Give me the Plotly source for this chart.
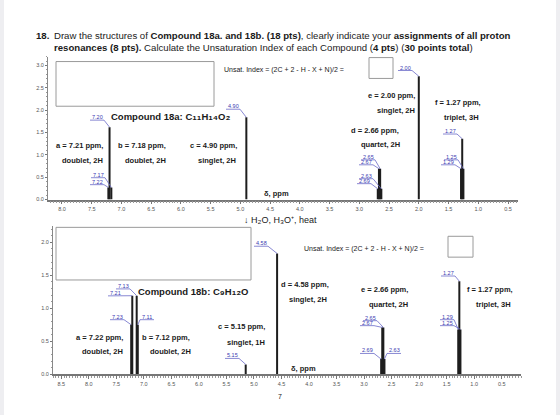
import plotly.graph_objects as go

W, H = 560, 418
FONT = "Liberation Sans, Arial, sans-serif"

# ---------------- data ----------------
top_ppm = [7.22, 7.20, 7.17, 4.90, 2.69, 2.67, 2.65, 2.63, 2.00, 1.29, 1.27, 1.25]
top_int = [0.27, 1.62, 0.27, 1.84, 0.24, 0.69, 0.69, 0.24, 2.76, 0.69, 1.36, 0.69]

bot_ppm = [7.23, 7.21, 7.13, 7.11, 5.15, 4.58, 2.69, 2.67, 2.65, 2.63, 1.29, 1.27, 1.25]
bot_int = [0.75, 1.19, 1.19, 0.75, 0.15, 1.83, 0.23, 0.71, 0.71, 0.23, 0.68, 1.41, 0.68]

# peak labels: (text, peak index, label px x, label px y, side)
top_labels = [("7.20", 1, 97, 118, "L"), ("7.17", 2, 98, 176, "L"), ("7.22", 0, 97, 183, "L"),
              ("4.90", 3, 233, 107, "L"), ("2.00", 8, 405, 68, "L"),
              ("2.65", 6, 368, 158, "L"), ("2.67", 5, 366, 163, "L"),
              ("2.63", 7, 366, 177, "L"), ("2.69", 4, 364, 182, "L"),
              ("1.27", 10, 450, 132, "L"), ("1.25", 11, 451, 158, "L"), ("1.29", 9, 448, 163, "L")]
bot_labels = [("7.13", 2, 123, 288, "L"), ("7.21", 1, 115, 295, "L"), ("7.23", 0, 117, 319, "L"),
              ("7.11", 3, 147, 319, "R"), ("5.15", 4, 232, 358, "L"), ("4.58", 5, 261, 245, "L"),
              ("2.65", 8, 370, 320, "L"), ("2.67", 7, 367, 325, "L"),
              ("2.69", 6, 367, 353, "L"), ("2.63", 9, 394, 353, "R"),
              ("1.27", 11, 448, 275, "L"), ("1.29", 10, 447, 319, "L"), ("1.25", 12, 447, 325, "L")]

x_ticks_top = [8.0, 7.5, 7.0, 6.5, 6.0, 5.5, 5.0, 4.5, 4.0, 3.5, 3.0, 2.5, 2.0, 1.5, 1.0, 0.5]
x_ticks_bot = [8.5] + x_ticks_top

# ---------------- axes geometry (pixels) ----------------
TOP = dict(x0=48, x1=518, xr=(8.235, 0.332), y0=201, y1=57, yr=(0, (201 - 57) / 45.0))
BOT = dict(x0=53, x1=521, xr=(8.65, 0.15), y0=377, y1=228, yr=(0, (377 - 228) / 66.5))


def px2x(ax, px):
    a, b = ax["xr"]
    return a + (px - ax["x0"]) / (ax["x1"] - ax["x0"]) * (b - a)


def py2y(ax, py):
    a, b = ax["yr"]
    return a + (ax["y0"] - py) / (ax["y0"] - ax["y1"]) * (b - a)


fig = go.Figure()


def stick_trace(ppm, inten, xa, ya):
    xs, ys = [], []
    for p, h in zip(ppm, inten):
        xs += [p, p, None]
        ys += [0, h, None]
    fig.add_trace(go.Scatter(x=xs, y=ys, mode="lines", xaxis=xa, yaxis=ya,
                             line=dict(color="#1e1e1e", width=2), hoverinfo="skip",
                             showlegend=False))


stick_trace(top_ppm, top_int, "x", "y")
stick_trace(bot_ppm, bot_int, "x2", "y2")

annotations = []


def label_set(labels, ppm, inten, ax, xa, ya):
    for txt, i, lx, ly, side in labels:
        uy = ly + 3
        if side == "L":
            pts_px = [(lx - 7, uy), (lx + 7, uy)]
        else:
            pts_px = [(lx + 7, uy), (lx - 7, uy)]
        xs = [px2x(ax, p[0]) for p in pts_px] + [ppm[i]]
        ys = [py2y(ax, p[1]) for p in pts_px] + [inten[i]]
        fig.add_trace(go.Scatter(x=xs, y=ys, mode="lines", xaxis=xa, yaxis=ya,
                                 line=dict(color="#6a6ac8", width=0.8), hoverinfo="skip",
                                 showlegend=False))
        annotations.append(dict(x=lx / W, y=1 - ly / H, xref="paper", yref="paper",
                                text=txt, showarrow=False, xanchor="center", yanchor="middle",
                                font=dict(family=FONT, size=5.5, color="#3a3ab0")))


label_set(top_labels, top_ppm, top_int, TOP, "x", "y")
label_set(bot_labels, bot_ppm, bot_int, BOT, "x2", "y2")


def txt(x, y, s, size=7.5, anchor="center", color="#1a1a1a"):
    annotations.append(dict(x=x / W, y=1 - y / H, xref="paper", yref="paper", text=s,
                            showarrow=False, xanchor=anchor, yanchor="middle",
                            font=dict(family=FONT, size=size, color=color)))


def sb(s, px=11):
    return '<span style="font-size:%dpx">%s</span>' % (px, s)


# header
txt(34, 36, "<b>18.</b>", 9.6, "left")
txt(52, 36, "Draw the structures of <b>Compound 18a. and 18b. (18 pts)</b>, clearly indicate your "
            "<b>assignments of all proton</b>", 9.6, "left")
txt(52, 48, "<b>resonances (8 pts).</b> Calculate the Unsaturation Index of each Compound "
            "(<b>4 pts</b>) (<b>30 points total</b>)", 9.6, "left")

# top spectrum texts
txt(222, 71, "Unsat. Index = (2C + 2 - H - X + N)/2 =", 7, "left")
txt(170, 117, "<b>Compound 18a: C" + sb("₁₁") + "H" + sb("₁₄") + "O" + sb("₂") + "</b>", 9.5)
for x, y, s in [(79, 147, "a = 7.21 ppm,"), (82, 162, "doublet, 2H"),
                (142, 147, "b = 7.18 ppm,"), (145, 162, "doublet, 2H"),
                (213, 147, "c = 4.90 ppm,"), (217, 162, "singlet, 2H"),
                (375, 131, "d = 2.66 ppm,"), (380, 146, "quartet, 2H"),
                (391, 96, "e = 2.00 ppm,"), (396, 111, "singlet, 2H"),
                (458, 103, "f = 1.27 ppm,"), (461, 118, "triplet, 3H"),
                (276, 195, "δ, ppm")]:
    txt(x, y, "<b>" + s + "</b>", 7.5)

txt(280, 221, "↓ H" + sb("₂", 10) + "O, H" + sb("₃", 10) + "O⁺, heat", 9)

# bottom spectrum texts
txt(302, 251, "Unsat. Index = (2C + 2 - H - X + N)/2 =", 7, "left")
txt(193, 293, "<b>Compound 18b: C" + sb("₉") + "H" + sb("₁₂") + "O</b>", 9.5)
for x, y, s in [(99, 340, "a = 7.22 ppm,"), (102, 354, "doublet, 2H"),
                (166, 340, "b = 7.12 ppm,"), (170, 354, "doublet, 2H"),
                (241, 329, "c = 5.15 ppm,"), (246, 345, "singlet, 1H"),
                (305, 287, "d = 4.58 ppm,"), (308, 302, "singlet, 2H"),
                (384, 292, "e = 2.66 ppm,"), (388, 307, "quartet, 2H"),
                (490, 292, "f = 1.27 ppm,"), (493, 307, "triplet, 3H"),
                (303, 371, "δ, ppm")]:
    txt(x, y, "<b>" + s + "</b>", 7.5)
txt(280, 399, "7", 7)

# shapes: page edges and boxes
shapes = [
    dict(type="rect", xref="paper", yref="paper", x0=0, x1=4 / W, y0=0, y1=1,
         fillcolor="#eeeef1", line=dict(width=0), layer="below"),
    dict(type="rect", xref="paper", yref="paper", x0=556 / W, x1=1, y0=0, y1=1,
         fillcolor="#eeeef1", line=dict(width=0), layer="below"),
]
for x0, y0, x1, y1 in [(56, 62, 214, 107), (369, 58, 393, 79), (56, 229, 251, 282), (448, 238, 473, 259)]:
    shapes.append(dict(type="rect", xref="paper", yref="paper", x0=x0 / W, x1=x1 / W,
                       y0=1 - y1 / H, y1=1 - y0 / H, line=dict(color="#9a9a9a", width=1),
                       fillcolor="rgba(0,0,0,0)"))


def xaxis(ax, ticks, anchor):
    return dict(domain=[ax["x0"] / W, ax["x1"] / W], range=list(ax["xr"]), anchor=anchor,
                tickvals=ticks, ticktext=["%.1f" % t for t in ticks],
                ticks="outside", ticklen=3, tickwidth=0.8, tickcolor="#777",
                minor=dict(dtick=0.05, ticks="outside", ticklen=1.5, tickcolor="#999", tickwidth=0.6),
                showline=True, linecolor="#777", linewidth=1.5, showgrid=False, zeroline=False,
                tickfont=dict(family=FONT, size=5.5, color="#555"))


def yaxis(ax, dt, anchor):
    return dict(domain=[1 - ax["y0"] / H, 1 - ax["y1"] / H], range=list(ax["yr"]), anchor=anchor,
                dtick=dt, tick0=0, tickformat=".1f",
                ticks="outside", ticklen=2, tickwidth=0.8, tickcolor="#777",
                minor=dict(dtick=0.1, ticks="outside", ticklen=1.5, tickcolor="#999", tickwidth=0.6),
                showline=True, linecolor="#888", linewidth=1, showgrid=False, zeroline=False,
                tickfont=dict(family=FONT, size=5.5, color="#555"))


fig.update_layout(
    width=W, height=H, margin=dict(l=0, r=0, t=0, b=0),
    paper_bgcolor="white", plot_bgcolor="rgba(0,0,0,0)",
    showlegend=False,
    xaxis=xaxis(TOP, x_ticks_top, "y"),
    yaxis=yaxis(TOP, 0.5, "x"),
    xaxis2=xaxis(BOT, x_ticks_bot, "y2"),
    yaxis2=yaxis(BOT, 0.5, "x2"),
    annotations=annotations, shapes=shapes,
)

fig.write_html("out.html")
